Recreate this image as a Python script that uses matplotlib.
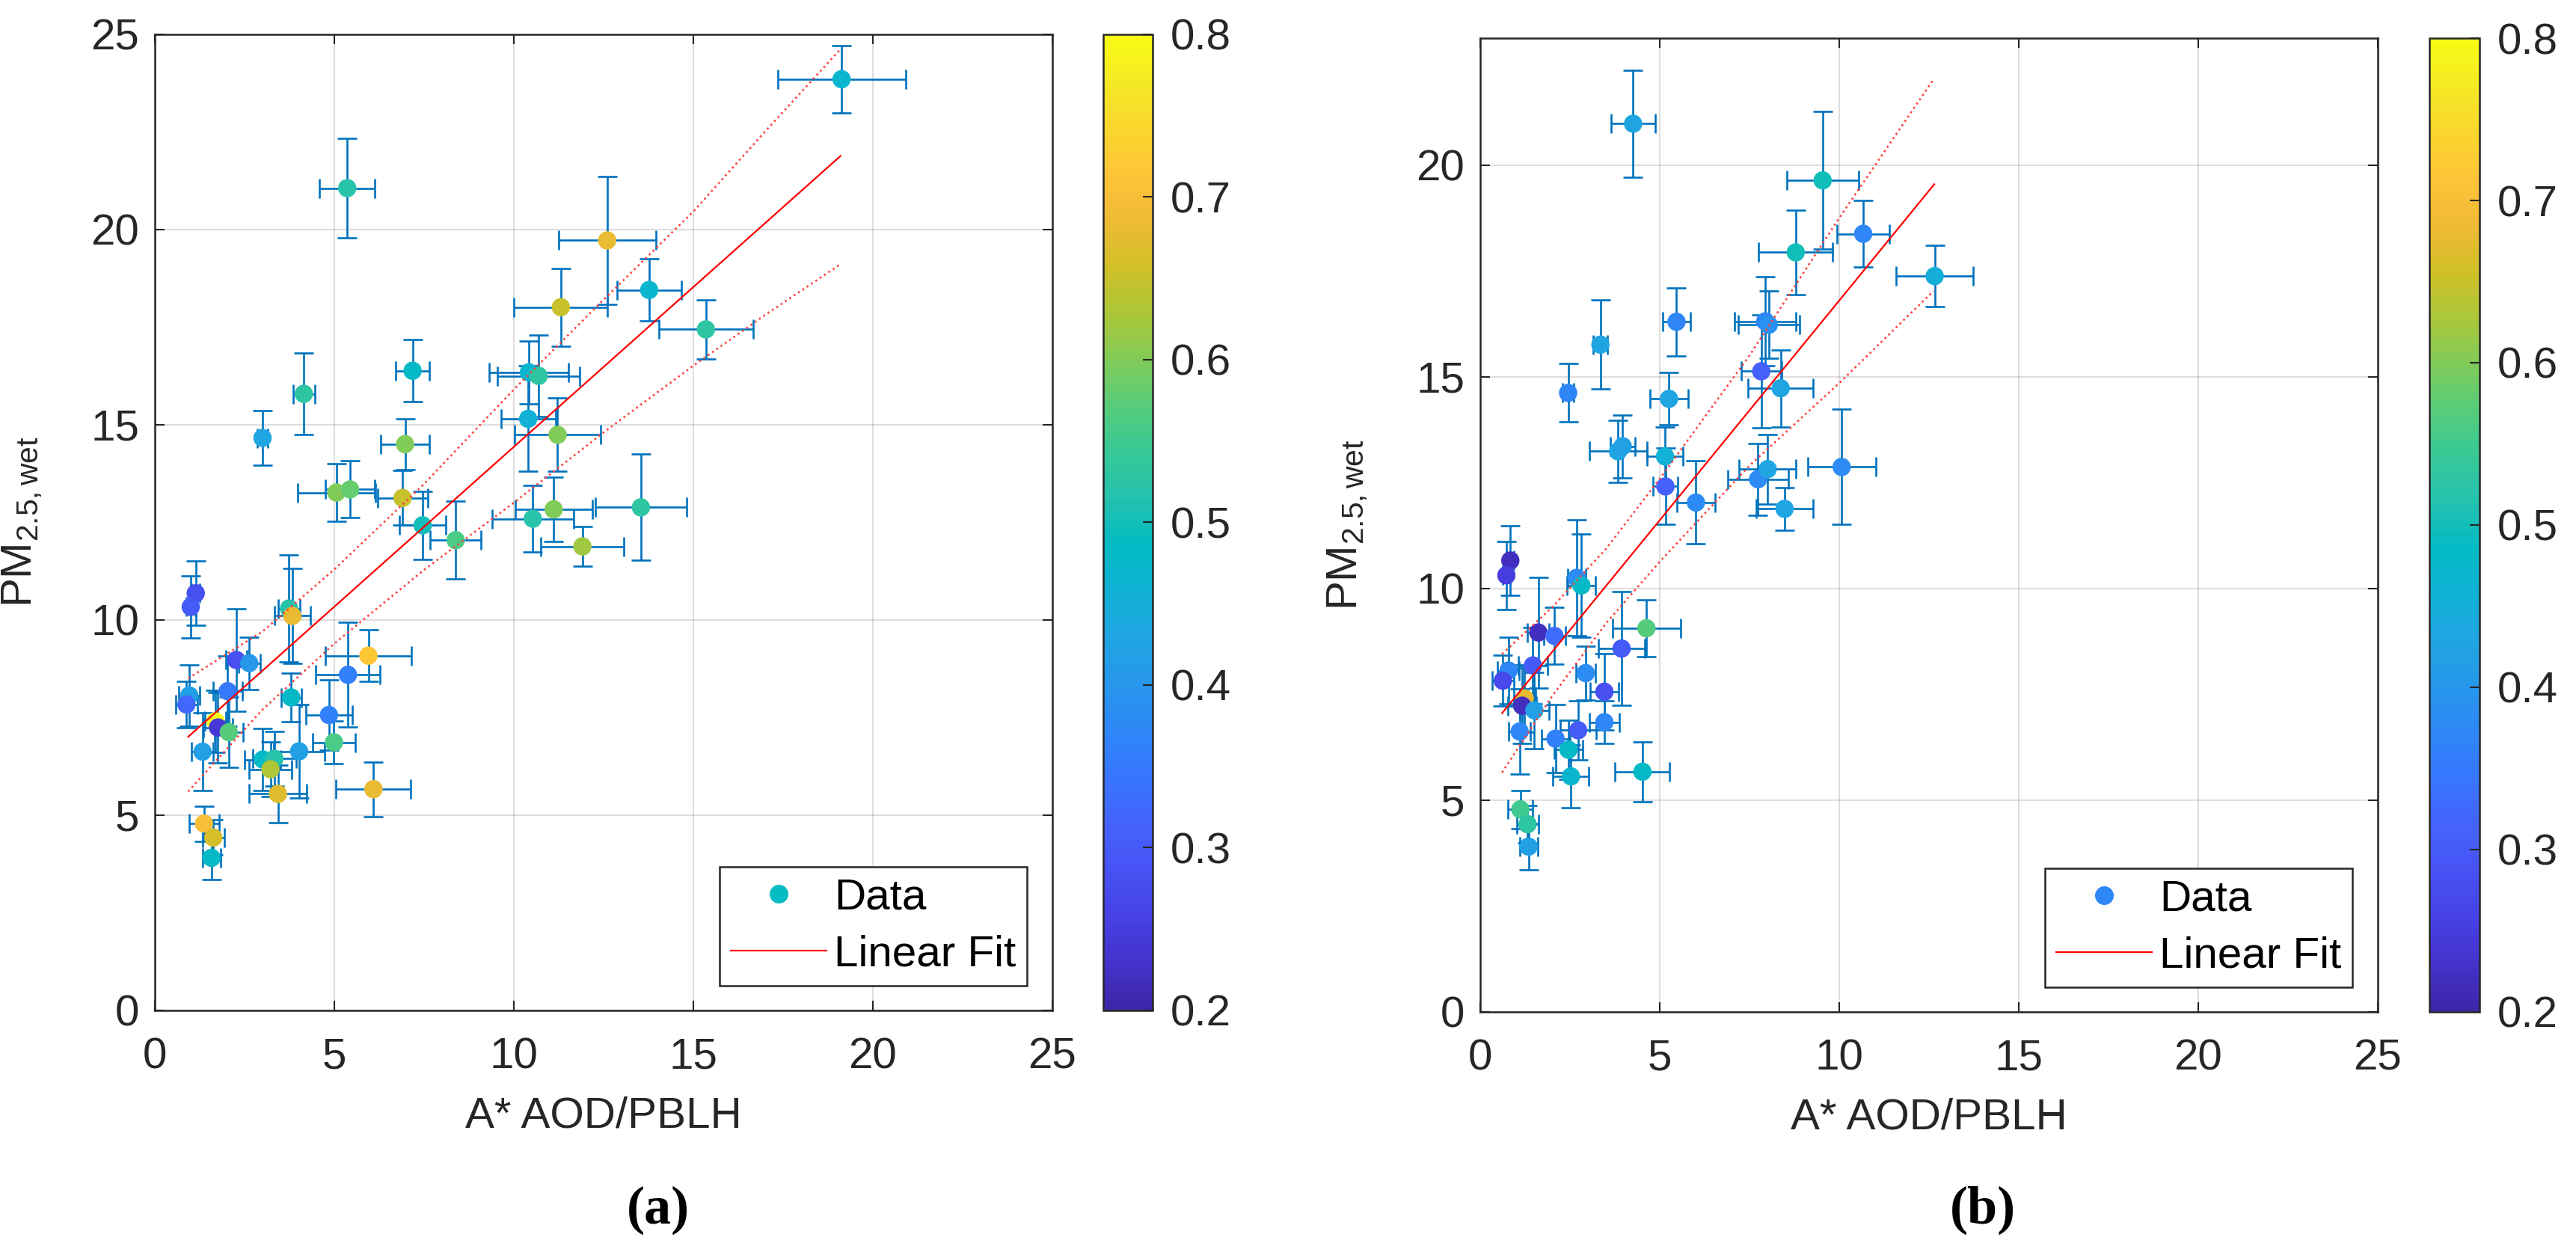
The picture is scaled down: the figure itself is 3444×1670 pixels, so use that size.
import numpy as np
import matplotlib
matplotlib.use('Agg')
import matplotlib.pyplot as plt
from matplotlib.colors import LinearSegmentedColormap, Normalize
from matplotlib.lines import Line2D

plt.rcParams['font.family'] = ['Liberation Sans', 'DejaVu Sans']
plt.rcParams['mathtext.fontset'] = 'custom'
plt.rcParams['mathtext.rm'] = 'Liberation Sans'
plt.rcParams['mathtext.it'] = 'Liberation Sans:italic'

# ---- panel (a) data: x = A* AOD/PBLH, y = PM2.5 wet, c = colour value ----
x_a = [19.13, 5.36, 12.60, 13.77, 11.31, 15.35, 7.18, 10.42, 10.69, 4.15, 3.00, 10.40,
       11.22, 6.97, 5.06, 5.44, 6.90, 7.46, 8.38, 10.53, 11.11, 13.54, 11.91,
       1.14, 1.00, 3.74, 3.83, 2.27, 2.63, 5.95, 5.38, 2.03, 0.96, 0.88, 3.80, 4.85,
       1.69, 1.76, 2.06, 1.33, 4.02, 4.99, 3.01, 3.33, 3.22, 3.43, 6.09, 1.37, 1.63, 1.58]
y_a = [23.85, 21.06, 19.72, 18.45, 18.01, 17.44, 16.38, 16.34, 16.25, 15.79, 14.66, 15.15,
       14.74, 14.50, 13.26, 13.34, 13.12, 12.42, 12.04, 12.59, 12.83, 12.88, 11.88,
       10.68, 10.33, 10.29, 10.10, 8.97, 8.89, 9.08, 8.59, 8.17, 8.06, 7.83, 8.01, 7.56,
       7.40, 7.24, 7.12, 6.62, 6.63, 6.86, 6.42, 6.44, 6.17, 5.54, 5.66, 4.78, 4.42, 3.90]
xerr_a = [1.78, 0.77, 1.35, 0.90, 1.30, 1.31, 0.47, 1.10, 1.14, 0.30, 0.15, 0.76,
          1.20, 0.68, 1.08, 0.68, 0.70, 0.65, 0.71, 1.13, 1.07, 1.27, 1.16,
          0.12, 0.12, 0.30, 0.50, 0.30, 0.30, 1.20, 0.89, 0.40, 0.30, 0.30, 0.28, 0.65,
          0.30, 0.40, 0.40, 0.30, 0.70, 0.60, 0.50, 0.60, 0.60, 0.80, 1.04, 0.42, 0.30, 0.25]
yerr_a = [0.87, 1.27, 1.63, 0.80, 1.00, 0.75, 0.80, 0.80, 1.05, 1.05, 0.70, 1.35,
          0.94, 0.65, 0.74, 0.73, 0.70, 0.87, 1.00, 0.85, 0.83, 1.36, 0.50,
          0.82, 0.80, 1.37, 1.22, 1.31, 0.67, 0.66, 1.34, 0.90, 0.78, 0.60, 0.63, 0.90,
          0.80, 0.90, 0.90, 1.00, 1.20, 0.55, 0.80, 0.70, 0.70, 0.74, 0.70, 0.45, 0.45, 0.55]
c_a = [0.47, 0.52, 0.68, 0.47, 0.65, 0.53, 0.48, 0.47, 0.53, 0.53, 0.43, 0.46,
       0.60, 0.60, 0.60, 0.58, 0.65, 0.50, 0.56, 0.52, 0.60, 0.53, 0.62,
       0.28, 0.30, 0.52, 0.68, 0.28, 0.40, 0.72, 0.36, 0.35, 0.42, 0.32, 0.48, 0.36,
       0.80, 0.24, 0.57, 0.42, 0.42, 0.56, 0.48, 0.52, 0.63, 0.67, 0.68, 0.70, 0.66, 0.48]

# ---- panel (b) data ----
x_b = [4.26, 9.54, 10.67, 8.79, 12.66, 5.47, 7.94, 8.04, 3.35, 2.45, 7.83, 8.37, 5.26,
       3.84, 3.97, 5.15, 5.16, 6.01, 7.74, 8.01, 8.48, 10.07,
       0.84, 0.73, 2.69, 2.82, 1.62, 2.07, 4.63, 3.94, 1.47, 0.79, 0.63, 2.94, 3.46,
       1.24, 1.17, 1.51, 1.10, 3.46, 2.73, 2.10, 2.46, 2.53, 4.52, 1.12, 1.32, 1.35]
y_b = [20.98, 19.64, 18.38, 17.94, 17.38, 16.30, 16.31, 16.23, 15.76, 14.62, 15.13, 14.73, 14.48,
       13.24, 13.36, 13.12, 12.41, 12.03, 12.58, 12.82, 11.88, 12.87,
       10.66, 10.31, 10.25, 10.07, 8.96, 8.88, 9.06, 8.58, 8.18, 8.06, 7.82, 8.00, 7.56,
       7.40, 7.23, 7.12, 6.62, 6.84, 6.65, 6.45, 6.19, 5.56, 5.67, 4.78, 4.43, 3.90]
xerr_b = [0.61, 1.00, 0.72, 1.03, 1.08, 0.38, 0.86, 0.85, 0.20, 0.15, 0.56, 0.90, 0.53,
          0.80, 0.35, 0.50, 0.34, 0.53, 0.85, 0.79, 0.79, 0.95,
          0.10, 0.10, 0.25, 0.40, 0.30, 0.30, 0.95, 0.64, 0.40, 0.30, 0.30, 0.28, 0.40,
          0.30, 0.40, 0.40, 0.30, 0.41, 0.50, 0.40, 0.40, 0.50, 0.76, 0.34, 0.30, 0.25]
yerr_b = [1.27, 1.63, 0.78, 1.00, 0.73, 0.80, 1.05, 0.80, 1.05, 0.69, 1.33, 0.91, 0.62,
          0.73, 0.74, 0.70, 0.90, 0.98, 0.85, 0.82, 0.51, 1.36,
          0.82, 0.80, 1.37, 1.22, 1.31, 0.67, 0.67, 1.34, 0.90, 0.78, 0.60, 0.63, 0.90,
          0.80, 0.90, 0.90, 1.00, 0.51, 0.70, 0.80, 0.70, 0.74, 0.71, 0.45, 0.45, 0.55]
c_b = [0.43, 0.50, 0.37, 0.50, 0.45, 0.37, 0.37, 0.39, 0.43, 0.37, 0.31, 0.43, 0.43,
       0.43, 0.42, 0.46, 0.31, 0.38, 0.38, 0.43, 0.43, 0.38,
       0.22, 0.25, 0.38, 0.48, 0.22, 0.33, 0.57, 0.30, 0.30, 0.37, 0.27, 0.38, 0.28,
       0.68, 0.22, 0.42, 0.37, 0.37, 0.30, 0.36, 0.48, 0.47, 0.48, 0.55, 0.53, 0.42]

# colour value of the "Data" legend marker in each panel
legend_c_a = 0.49
legend_c_b = 0.37

# linear fits (slope, intercept, x range) and confidence bounds
fit_a = (0.819, 6.24, 0.93, 19.1)
bx_a = [0.93, 3, 5, 7.5, 10, 12.5, 15, 17, 19.1]
upper_a = [8.50, 9.70, 11.29, 13.48, 15.90, 18.20, 20.46, 22.51, 24.62]
lower_a = [5.60, 7.70, 9.39, 11.28, 13.00, 14.80, 16.51, 17.81, 19.11]

fit_b = (1.038, 6.42, 0.61, 12.65)
bx_b = [0.61, 2, 3.5, 5, 7.5, 10, 12.63]
upper_b = [8.45, 9.55, 10.93, 12.59, 15.50, 18.75, 22.03]
lower_b = [5.65, 7.45, 9.17, 10.63, 12.90, 14.85, 17.03]

# MATLAB parula (every 3rd row of the 64-colour table)
parula_rows = [
    (0.2422, 0.1504, 0.6603), (0.2647, 0.1978, 0.7952), (0.2783, 0.2559, 0.8991),
    (0.2810, 0.3228, 0.9579), (0.2699, 0.3892, 0.9906), (0.2206, 0.4603, 0.9973),
    (0.1786, 0.5289, 0.9682), (0.1540, 0.5902, 0.9218), (0.1248, 0.6459, 0.8883),
    (0.0689, 0.6948, 0.8394), (0.0067, 0.7312, 0.7660), (0.1408, 0.7584, 0.6842),
    (0.2161, 0.7843, 0.5923), (0.3406, 0.8008, 0.4789), (0.5044, 0.7993, 0.3480),
    (0.6720, 0.7793, 0.2227), (0.8203, 0.7498, 0.1535), (0.9393, 0.7288, 0.2100),
    (0.9970, 0.7659, 0.2199), (0.9786, 0.8386, 0.1766), (0.9597, 0.9135, 0.1423),
    (0.9769, 0.9839, 0.0805)]
parula = LinearSegmentedColormap.from_list('parula', parula_rows, N=256)
norm = Normalize(vmin=0.2, vmax=0.8)

ERR_COLOR = (0.0, 0.447, 0.741)
AX_COLOR = (0.15, 0.15, 0.15)
FS = 42

fig = plt.figure(figsize=(34.44, 16.70), dpi=100)


def draw_panel(ax_rect, cb_rect, x, y, xerr, yerr, c, leg_c, fit, bx, upper, lower,
               ymax, yticks, tag, tag_x):
    ax = fig.add_axes(ax_rect)
    ax.errorbar(x, y, xerr=xerr, yerr=yerr, fmt='none', ecolor=ERR_COLOR,
                elinewidth=1.9, capsize=9.5, capthick=1.9, zorder=2)
    sc = ax.scatter(x, y, c=c, cmap=parula, norm=norm, s=310, edgecolors='none', zorder=3)

    slope, icpt, x0, x1 = fit
    fx = np.array([x0, x1])
    ax.plot(fx, slope * fx + icpt, color='red', lw=1.6, zorder=4)
    ax.plot(bx, upper, color=(1, 0.25, 0.25), lw=1.9, ls=':', zorder=4)
    ax.plot(bx, lower, color=(1, 0.25, 0.25), lw=1.9, ls=':', zorder=4)

    ax.set_xlim(0, 25)
    ax.set_ylim(0, ymax)
    ax.set_xticks([0, 5, 10, 15, 20, 25])
    ax.set_yticks(yticks)
    ax.grid(True, color=AX_COLOR, alpha=0.15, lw=1.5)
    ax.set_axisbelow(True)
    ax.tick_params(direction='in', length=9.5, width=1.5, top=True, right=True,
                   labelsize=FS, colors=AX_COLOR)
    ax.tick_params(axis='x', pad=26)
    ax.tick_params(axis='y', pad=15)
    for s in ax.spines.values():
        s.set_color(AX_COLOR)
        s.set_linewidth(1.8)

    ax.set_xlabel('A* AOD/PBLH', fontsize=FS, color=AX_COLOR)
    ax.xaxis.set_label_coords(0.5, -0.088)
    ax.set_ylabel(r'PM$_{\mathrm{2.5,wet}}$', fontsize=FS, color=AX_COLOR)
    ax.yaxis.set_label_coords(-0.124, 0.5)

    h_data = Line2D([], [], ls='none', marker='o', markersize=18,
                    markerfacecolor=parula(norm(leg_c)), markeredgecolor='none')
    h_fit = Line2D([], [], color='red', lw=1.6)
    leg = ax.legend([h_data, h_fit], ['Data', 'Linear Fit'], loc='lower right',
                    bbox_to_anchor=(0.972, 0.025), borderaxespad=0, fontsize=FS,
                    fancybox=False, framealpha=1, edgecolor=AX_COLOR,
                    handlelength=2.2, handletextpad=0.18, borderpad=0.25,
                    labelspacing=0.38)
    leg.get_frame().set_linewidth(1.8)

    cax = fig.add_axes(cb_rect)
    cb = fig.colorbar(sc, cax=cax, ticks=[0.2, 0.3, 0.4, 0.5, 0.6, 0.7, 0.8])
    cb.ax.tick_params(direction='in', length=9.5, width=1.5, labelsize=FS,
                      colors=AX_COLOR, pad=17)
    cb.outline.set_edgecolor(AX_COLOR)
    cb.outline.set_linewidth(1.8)

    fig.text(tag_x, 0.031, tag, ha='center', va='center', fontsize=52,
             family='Liberation Serif', fontweight='bold')
    return ax


draw_panel([0.0601, 0.1913, 0.3484, 0.7812], [0.4283, 0.1913, 0.0192, 0.7812],
           x_a, y_a, xerr_a, yerr_a, c_a, legend_c_a, fit_a, bx_a, upper_a, lower_a,
           25, [0, 5, 10, 15, 20, 25], '(a)', 0.2555)
draw_panel([0.5746, 0.1900, 0.3484, 0.7794], [0.9431, 0.1900, 0.0195, 0.7794],
           x_b, y_b, xerr_b, yerr_b, c_b, legend_c_b, fit_b, bx_b, upper_b, lower_b,
           23, [0, 5, 10, 15, 20], '(b)', 0.7698)

fig.savefig('out.png', dpi=100)
